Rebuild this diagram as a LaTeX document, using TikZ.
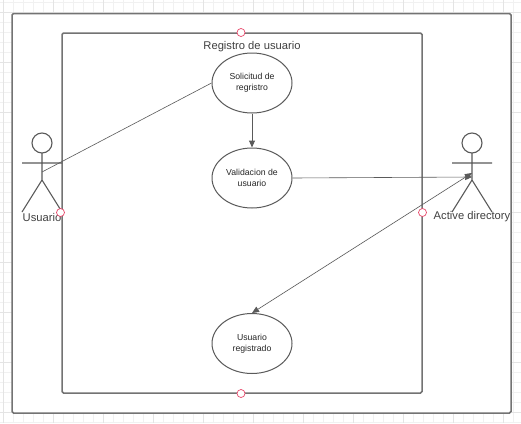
\documentclass[tikz,border=0pt]{standalone}
\usepackage{fontspec}
\setmainfont{Liberation Sans}
\usetikzlibrary{arrows.meta,shapes.geometric}
\definecolor{ln}{HTML}{5A5A5A}
\definecolor{fr}{HTML}{737373}
\definecolor{gridminor}{HTML}{F1F1F1}
\definecolor{gridmajor}{HTML}{E4E4E4}
\definecolor{hd}{HTML}{E8476A}
\tikzset{
  usecase/.style={draw=ln,line width=1pt,fill=white,ellipse,minimum width=80pt,minimum height=60pt,inner sep=0pt,align=center,font=\fontsize{8.7}{11}\selectfont,text=black!85},
  frame/.style={draw=fr,line width=1.5pt,rounded corners=1.5pt},
  handle/.style={circle,draw=hd,fill=white,line width=.7pt,minimum size=8pt,inner sep=0pt},
  label/.style={font=\fontsize{11.2}{13}\selectfont,text=black!75,inner sep=0pt},
  actorline/.style={draw=ln,line width=1.1pt},
  conn/.style={draw=ln,line width=.6pt},
  tip/.style={-{Triangle[length=7pt,width=6pt,fill=ln]}}
}
\begin{document}
\begin{tikzpicture}[x=1pt,y=-1pt]
\useasboundingbox (0,0) rectangle (521,423);
\fill[white] (0,0) rectangle (521,423);
\foreach \x in {3,13,...,523} \draw[gridminor,line width=.6pt] (\x,0) -- (\x,423);
\foreach \y in {2,12,...,422} \draw[gridminor,line width=.6pt] (0,\y) -- (521,\y);
\foreach \x in {3,53,...,503} \draw[gridmajor,line width=.6pt] (\x,0) -- (\x,423);
\foreach \y in {12,62,...,412} \draw[gridmajor,line width=.6pt] (0,\y) -- (521,\y);
\draw[frame,fill=white] (12,13.5) rectangle (511,413);
\draw[frame] (62,33) rectangle (422,393);
\node[label] (title) at (252,47) {Registro de usuario};
\node[usecase] (sol) at (252,83) {Solicitud de\\regristro};
\node[usecase] (val) at (252,178) {Validacion de\\usuario};
\node[usecase] (reg) at (252,343.5) {Usuario\\registrado};
% actor Usuario
\draw[actorline] (42,143) circle (10);
\coordinate (uc) at (42,172);
\coordinate (uneck) at (42,153);
\coordinate (uhip) at (42,180);
\draw[actorline] (uneck) -- (uhip) (22,163) -- (62,163) (22,212) -- (uhip) -- (62,212);
\node[label] (ulab) at (42,217) {Usuario};
% actor Active directory
\draw[actorline] (472,143) circle (10);
\coordinate (ac) at (472,177);
\coordinate (aneck) at (472,153);
\coordinate (ahip) at (472,180);
\draw[actorline] (aneck) -- (ahip) (452,163) -- (492,163) (452,212) -- (ahip) -- (492,212);
\node[label] (alab) at (472,217) {Active directory};
% connectors
\draw[conn] (uc) -- (sol.west);
\draw[conn,line width=1pt,tip] (sol.south) -- (val.north);
\draw[conn,tip] (val.east) -- (ac);
\coordinate (ac2) at (472,173);
\draw[conn,{Triangle[length=7pt,width=6pt,fill=ln]}-{Triangle[length=7pt,width=6pt,fill=ln]}] (reg.north) -- (ac2);
% handles
\node[handle] (h1) at (241,32.5) {};
\node[handle] (h2) at (60.5,212.5) {};
\node[handle] (h3) at (422.5,212.5) {};
\node[handle] (h4) at (241,393.5) {};
\end{tikzpicture}
\end{document}
